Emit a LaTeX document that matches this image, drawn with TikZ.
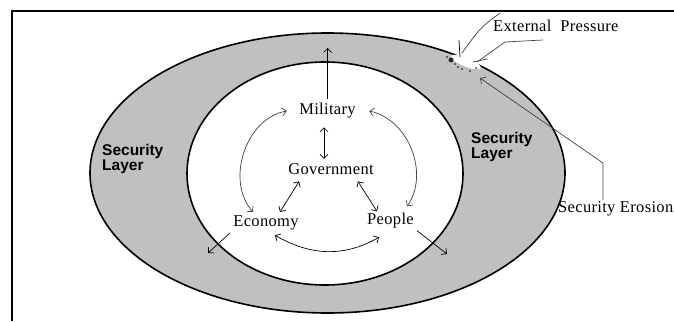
\documentclass[tikz,border=0pt]{standalone}
\usepackage{fontspec}
\setmainfont{Liberation Serif}[LetterSpace=2]
\setsansfont{Liberation Sans}
\usetikzlibrary{arrows.meta}
\definecolor{layergray}{RGB}{192,192,192}
\tikzset{
  partlbl/.style={font=\fontsize{16.5}{18}\selectfont, inner sep=3pt},
  layerlbl/.style={font=\sffamily\bfseries\fontsize{15.5}{15}\selectfont, align=left, inner sep=0pt},
  link/.style={line width=0.7pt},
  softlink/.style={line width=0.7pt, black!75},
  >={Straight Barb[length=4pt,width=8pt]}
}
\begin{document}
\begin{tikzpicture}[x=1pt,y=1pt]
        \useasboundingbox (0,0) rectangle (674,-321);
        % Frame
        \draw[line width=2pt] (12,-321) -- (12,-11) -- (674,-11);

        % Security layer and core
        \draw[line width=1.6pt, fill=layergray] (327.5,-173) ellipse [x radius=237.5, y radius=140];
        \draw[line width=1.6pt, fill=white] (325,-173.5) ellipse [x radius=138, y radius=111.5];

        % Eroded spot on the outer border
        \fill[white, rotate around={-22:(466,-62)}] (466,-62) ellipse [x radius=16, y radius=4.5];
        \fill[black!85] (451,-60) circle (2.5);
        \foreach \p in {(447,-57),(455,-64),(462,-69),(470,-71),(476,-68),(458,-67)}
          \fill[black] \p circle (0.9);

        % Layer texts
        \node[layerlbl, anchor=north west] (layl) at (102,-144) {Security\\Layer};
        \node[layerlbl, anchor=north west] (layr) at (471,-132) {Security\\Layer};

        % Core parts
        \node[partlbl, anchor=base] (mil) at (327.5,-114) {Military};
        \node[partlbl, anchor=base] (gov) at (331,-174) {Government};
        \node[partlbl, anchor=base] (eco) at (266,-226) {Economy};
        \node[partlbl, anchor=base] (ppl) at (390.5,-224) {People};

        % Outside texts
        \node[partlbl, anchor=base west, inner sep=0pt] (ext) at (493,-32) {External\ \ Pressure};
        \node[partlbl, anchor=base west, inner sep=1pt] (ero) at (557,-212) {Security Erosion};

        \coordinate (milTop) at (327.5,-48);
        \coordinate (ecoOut) at (208,-253);
        \coordinate (pplOut) at (447,-254);
        \coordinate (eroBend) at (603,-163);
        \coordinate (eroTip) at (480,-78);

        % Links between the parts
        \draw[link, ->] (mil.north) -- (milTop);
        \draw[link, <->] ([xshift=-3.5pt, yshift=-6.5pt]mil.south) -- ([xshift=-7pt, yshift=1pt]gov.north);
        \draw[link, <->] ([xshift=14pt, yshift=-4pt]gov.south west) -- ([xshift=14pt]eco.north);
        \draw[link, <->] ([xshift=-19pt, yshift=-4pt]gov.south east) -- ([xshift=-13.5pt, yshift=-2pt]ppl.north);
        \draw[softlink, <->] ([xshift=-9.5pt, yshift=-1pt]mil.west) to[out=190, in=132] ([xshift=-13pt]eco.north);
        \draw[softlink, <->] ([xshift=10.5pt, yshift=-1pt]mil.east) to[out=-12, in=55] ([xshift=16.5pt, yshift=3pt]ppl.north);
        \draw[link, <->] ([xshift=9pt, yshift=-2.5pt]eco.south) to[out=-30, in=-150] ([xshift=-11.5pt, yshift=-6.5pt]ppl.south);
        \draw[link, ->] (eco.south west) -- (ecoOut);
        \draw[link, ->] (ppl.south east) -- (pplOut);

        % Pressure and erosion
        \draw[softlink] (500,-13) .. controls (480,-28) .. (462,-53);
        \draw[softlink] (543,-40) -- (505,-42) -- (477,-62);
        \draw[softlink] (473,-62) -- (487,-59);
        \draw[link] (459,-40) -- (460,-57);
        \draw[softlink, ->] (ero.north -| eroBend) -- (eroBend) -- (eroTip);
\end{tikzpicture}
\end{document}
